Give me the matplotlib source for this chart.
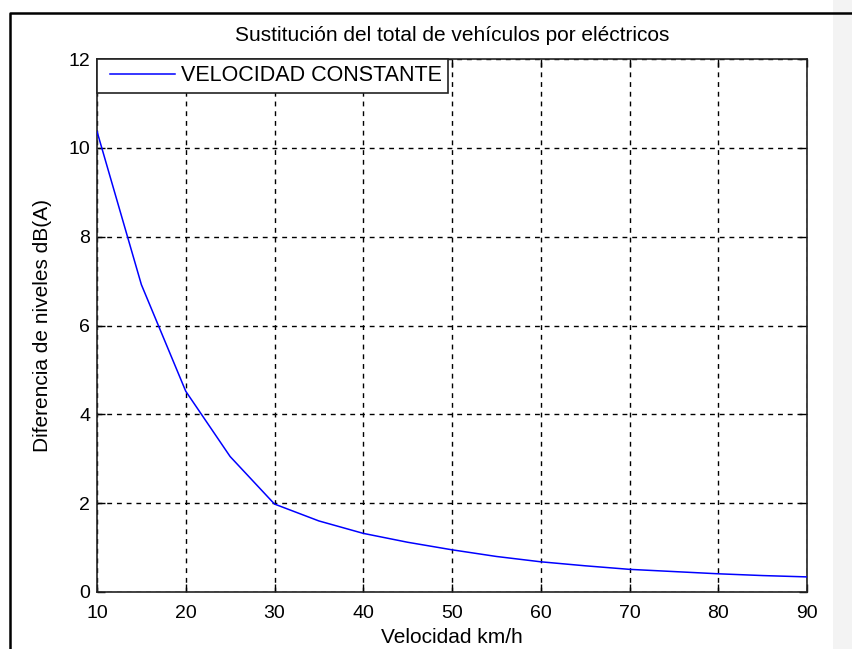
import matplotlib
matplotlib.use("Agg")
import matplotlib.pyplot as plt
from matplotlib.patches import Rectangle
from matplotlib.lines import Line2D
from matplotlib.legend_handler import HandlerLine2D

velocidad = [10, 15, 20, 25, 30, 35, 40, 45, 50, 55, 60, 65, 70, 75, 80, 85, 90]
diferencia = [10.37, 6.92, 4.52, 3.05, 1.98, 1.60, 1.32, 1.12, 0.95, 0.80, 0.68, 0.59, 0.51, 0.46, 0.41, 0.37, 0.34]
x_ticks = [10, 20, 30, 40, 50, 60, 70, 80, 90]
y_ticks = [0, 2, 4, 6, 8, 10, 12]
title = "Sustitución del total de vehículos por eléctricos"
xlabel = "Velocidad km/h"
ylabel = "Diferencia de niveles dB(A)"
legend_label = "VELOCIDAD CONSTANTE"

plt.rcParams['font.family'] = ['Liberation Sans', 'DejaVu Sans']

W, H = 852, 649
fig = plt.figure(figsize=(W / 100, H / 100), dpi=100)
fig.patch.set_facecolor('white')

# light grey strip at the right edge
fig.add_artist(Rectangle((833 / W, 0), 1 - 833 / W, 1, transform=fig.transFigure,
                         facecolor='#f3f3f3', edgecolor='none', zorder=0))

# frame of the screenshot
fig.add_artist(Line2D([10 / W, 10 / W, 1.0], [0, 1 - 12.5 / H, 1 - 12.5 / H],
                      transform=fig.transFigure, color='black', lw=1.8, zorder=3))

left, right, top, bottom = 97, 807, 59, 592
ax = fig.add_axes([left / W, 1 - bottom / H, (right - left) / W, (bottom - top) / H])
ax.set_facecolor('white')

line, = ax.plot(velocidad, diferencia, color='#0000ff', lw=1.1, label=legend_label, zorder=3)

ax.set_xlim(10, 90)
ax.set_ylim(0, 12)
ax.set_xticks(x_ticks)
ax.set_yticks(y_ticks)
ax.tick_params(direction='in', top=True, right=True, length=6, width=1,
               labelsize=14, colors='black')
ax.tick_params(axis='x', pad=9)
ax.tick_params(axis='y', pad=5)
ax.grid(True, color='black', linestyle=(0, (3.5, 3.5)), lw=1.0)
for s in ax.spines.values():
    s.set_linewidth(1.2)
    s.set_color('#222222')

ax.set_title(title, fontsize=15, pad=13)
ax.set_xlabel(xlabel, fontsize=15, labelpad=5)
ax.set_ylabel(ylabel, fontsize=15, labelpad=12)

leg = ax.legend(loc='upper left', bbox_to_anchor=(0, 1), borderaxespad=0,
                fontsize=15.5, frameon=True, fancybox=False, handlelength=3.3,
                handletextpad=0.3, borderpad=0.3,
                handler_map={line: HandlerLine2D(xpad=0.3)})
leg.get_frame().set_edgecolor('#222222')
leg.get_frame().set_linewidth(1.2)
leg.get_frame().set_facecolor('white')
leg.get_frame().set_alpha(1.0)

fig.savefig("out.png", dpi=100)
